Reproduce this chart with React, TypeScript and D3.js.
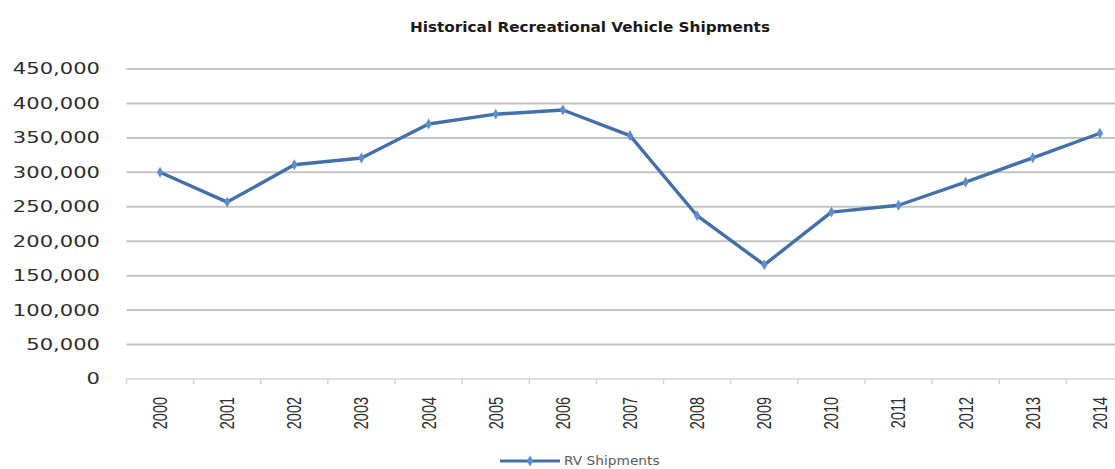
import React from "react";
import * as d3 from "d3";

const years = ["2000","2001","2002","2003","2004","2005","2006","2007","2008","2009","2010","2011","2012","2013","2014"];
const shipments = [300100, 256800, 311000, 320800, 370100, 384400, 390500, 353400, 237000, 165700, 242300, 252200, 285800, 321100, 356700];
const yTicks = [0, 50000, 100000, 150000, 200000, 250000, 300000, 350000, 400000, 450000];
const title = "Historical Recreational Vehicle Shipments";
const seriesName = "RV Shipments";

const W = 1115, H = 469;
const plotLeft = 126.5, plotRight = 1133.5, plotTop = 69, plotBottom = 379;

export default function App() {
  const x = d3.scaleBand<string>().domain(years).range([plotLeft, plotRight]).padding(0);
  const bw = x.bandwidth();
  const cx = (d: string) => (x(d) as number) + bw / 2;
  const y = d3.scaleLinear().domain([0, 450000]).range([plotBottom, plotTop]);
  const fmt = d3.format(",");
  const line = d3.line<number>().x((_, i) => cx(years[i])).y((v) => y(v));
  const diamond = d3.symbol(d3.symbolDiamond, 34)() as string;
  const boundaries = years.map((d) => x(d) as number).concat([plotRight]);

  return (
    <svg width={W} height={H} style={{ position: "absolute", left: 0, top: 0, background: "#fff" }}>
      <rect x={0} y={0} width={W} height={H} fill="#fff" />
      <text
        transform={`translate(590,32) scale(1.13,1)`}
        textAnchor="middle"
        fontFamily="DejaVu Sans"
        fontWeight="bold"
        fontSize={13.5}
        fill="#1a1a1a"
      >
        {title}
      </text>
      {yTicks.filter((t) => t > 0).map((t) => (
        <line key={t} x1={plotLeft} x2={W} y1={y(t)} y2={y(t)} stroke="#c4c4c4" strokeWidth={2} />
      ))}
      <line x1={plotLeft} x2={W} y1={y(0)} y2={y(0)} stroke="#d4d4d4" strokeWidth={1.5} />
      {boundaries.map((b, i) => (
        <line key={i} x1={b} x2={b} y1={plotBottom} y2={plotBottom + 5} stroke="#d4d4d4" strokeWidth={1.5} />
      ))}
      {yTicks.map((t) => (
        <text
          key={t}
          transform={`translate(100,${y(t)}) scale(1.36,1)`}
          textAnchor="end"
          dominantBaseline="central"
          fontFamily="DejaVu Sans"
          fontSize={15.5}
          fill="#2e2e2e"
        >
          {fmt(t)}
        </text>
      ))}
      {years.map((d) => (
        <text
          key={d}
          transform={`translate(${cx(d)},397) rotate(-90) scale(1,1.4)`}
          textAnchor="end"
          dominantBaseline="central"
          fontFamily="Liberation Sans"
          fontSize={14.5}
          fill="#2e2e2e"
        >
          {d}
        </text>
      ))}
      <path d={line(shipments) as string} fill="none" stroke="#4470a8" strokeWidth={3.4} strokeLinejoin="round" />
      {shipments.map((v, i) => (
        <path key={i} d={diamond} transform={`translate(${cx(years[i])},${y(v)})`} fill="#5b8fd0" />
      ))}
      <line x1={500} x2={560} y1={461} y2={461} stroke="#4470a8" strokeWidth={3} />
      <path d={diamond} transform="translate(530,461)" fill="#5b8fd0" />
      <text
        transform="translate(564,461) scale(1.1,1)"
        dominantBaseline="central"
        fontFamily="DejaVu Sans"
        fontSize={12.5}
        fill="#5a5a5a"
      >
        {seriesName}
      </text>
    </svg>
  );
}
